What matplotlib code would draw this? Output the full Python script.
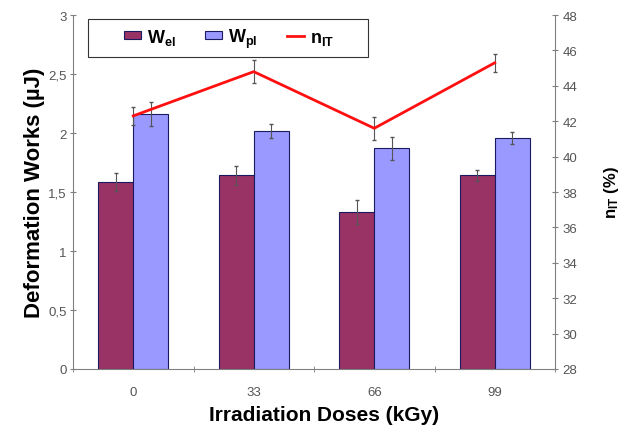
import numpy as np
import matplotlib
matplotlib.use("Agg")
from matplotlib import pyplot as plt
from matplotlib.patches import Rectangle
from matplotlib.ticker import FuncFormatter

plt.rcParams['font.family'] = ['Liberation Sans', 'DejaVu Sans']
plt.rcParams['mathtext.fontset'] = 'custom'
plt.rcParams['mathtext.rm'] = 'Liberation Sans:bold'
plt.rcParams['mathtext.it'] = 'Liberation Sans:bold'
plt.rcParams['mathtext.bf'] = 'Liberation Sans:bold'

doses = ['0', '33', '66', '99']
w_el = [1.585, 1.64, 1.33, 1.64]
w_el_err = [0.08, 0.08, 0.1, 0.05]
w_pl = [2.16, 2.02, 1.87, 1.96]
w_pl_err = [0.1, 0.06, 0.1, 0.05]
n_it = [42.3, 44.8, 41.6, 45.3]
n_it_err = [0.5, 0.65, 0.65, 0.5]

grey = '#808080'
x = np.arange(len(doses))
bw = 0.29

fig = plt.figure(figsize=(6.25, 4.27), dpi=100)
ax = fig.add_axes([0.1168, 0.1335, 0.7712, 0.829])

b1 = ax.bar(x - bw/2, w_el, bw, color='#993366', edgecolor='#1a1a5e', linewidth=0.8,
            yerr=w_el_err, error_kw=dict(ecolor='#555555', elinewidth=0.8, capsize=1.5))
b2 = ax.bar(x + bw/2, w_pl, bw, color='#9999FF', edgecolor='#1a1a5e', linewidth=0.8,
            yerr=w_pl_err, error_kw=dict(ecolor='#555555', elinewidth=0.8, capsize=1.5))

ax.set_xlim(-0.5, len(doses) - 0.5)
ax.set_ylim(0, 3)
ax.set_yticks(np.arange(0, 3.01, 0.5))
ax.yaxis.set_major_formatter(FuncFormatter(lambda v, p: ('%g' % v).replace('.', ',')))
ax.set_xticks(x)
ax.set_xticklabels(doses)
ax.set_xticks(np.arange(-0.5, len(doses), 1), minor=True)
ax.tick_params(axis='x', which='major', length=0, labelsize=9.5, labelcolor='#555555', pad=12)
ax.tick_params(axis='x', which='minor', length=5, direction='inout', color=grey)
ax.tick_params(axis='y', length=5, direction='inout', color=grey, labelsize=9.5, labelcolor='#555555', pad=2)

ax2 = ax.twinx()
l1, = ax2.plot(x, n_it, color='#FF1010', linewidth=2, zorder=3)
ax2.errorbar(x, n_it, yerr=n_it_err, fmt='none', ecolor='#555555', elinewidth=0.8, capsize=1.5)
ax2.set_ylim(28, 48)
ax2.set_yticks(np.arange(28, 49, 2))
ax2.tick_params(axis='y', length=5, direction='inout', color=grey, labelsize=9.5, labelcolor='#555555', pad=3)

for a in (ax, ax2):
    a.spines['top'].set_visible(False)
    for s in ('left', 'right', 'bottom'):
        a.spines[s].set_color(grey)
ax.spines['right'].set_visible(False)
ax2.spines['left'].set_visible(False)
ax2.spines['bottom'].set_visible(False)

ax.set_ylabel('Deformation Works (µJ)', fontsize=16, fontweight='bold', labelpad=2)
ax.set_xlabel('Irradiation Doses (kGy)', fontsize=15, fontweight='bold', labelpad=5)
ax.xaxis.label.set_x(0.521)
ax2.set_ylabel('n$_{IT}$ (%)', fontsize=12, fontweight='bold', labelpad=18)

# legend frame drawn separately, legend entries centred inside it
ax2.add_patch(Rectangle((0.031, 0.881), 0.581, 0.108, transform=ax2.transAxes,
                        facecolor='white', edgecolor='#333333', linewidth=0.8, zorder=9))
leg = ax2.legend([b1, b2, l1], ['W$_{el}$', 'W$_{pl}$', 'n$_{IT}$'], ncol=3,
                 loc='center', bbox_to_anchor=(0.324, 0.935), frameon=False,
                 prop={'weight': 'bold', 'size': 13},
                 handlelength=0.95, handleheight=0.35, handletextpad=0.35,
                 columnspacing=1.6, borderpad=0, borderaxespad=0)
leg.set_zorder(10)

fig.savefig('out.png', dpi=100)
